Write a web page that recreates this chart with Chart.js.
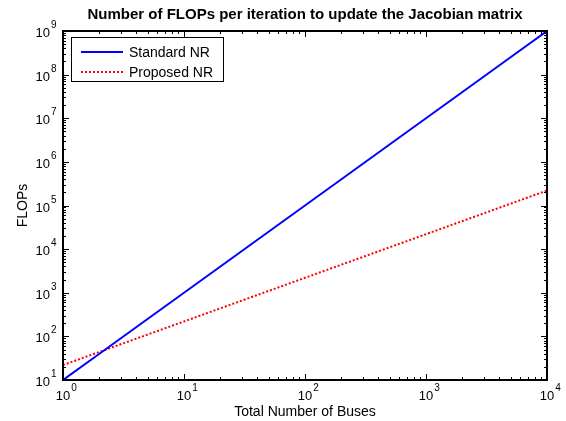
<!DOCTYPE html>
<html>
<head>
<meta charset="utf-8">
<script src="https://cdn.jsdelivr.net/npm/chart.js@4.4.1/dist/chart.umd.min.js"></script>
<style>
  html, body { margin: 0; padding: 0; background: #fff; }
  #wrap { width: 566px; height: 421px; }
</style>
</head>
<body>
<div id="wrap"><canvas id="flopsChart" width="566" height="421"></canvas></div>
<script>
// data
const buses = [1, 2, 5, 10, 20, 50, 100, 200, 500, 1000, 2000, 5000, 10000];
const standardNR = [10, 40, 250, 1000, 4000, 25000, 100000, 400000, 2500000, 10000000, 40000000, 250000000, 1000000000];
const proposedNR = [22, 44, 110, 220, 440, 1100, 2200, 4400, 11000, 22000, 44000, 110000, 220000];
const xExponents = [0, 1, 2, 3, 4];
const yExponents = [1, 2, 3, 4, 5, 6, 7, 8, 9];
const seriesNames = ['Standard NR', 'Proposed NR'];

const FONT = '"Liberation Sans", Arial, sans-serif';

function toPoints(xs, ys) {
    return xs.map(function(x, i) { return { x: x, y: ys[i] }; });
}

// MATLAB-like axes box, inward ticks, 10^n labels, legend and titles
const matlabAxes = {
    id: 'matlabAxes',
    afterDraw: function(chart) {
        const ctx = chart.ctx;
        const area = chart.chartArea;
        const xs = chart.scales.x;
        const ys = chart.scales.y;
        ctx.save();

        // ticks
        ctx.strokeStyle = '#000';
        ctx.lineWidth = 1;
        ctx.beginPath();
        for (let e = xExponents[0]; e <= xExponents[xExponents.length - 1]; e++) {
            for (let m = 1; m <= 9; m++) {
                if (e === xExponents[xExponents.length - 1] && m > 1) break;
                const px = Math.round(xs.getPixelForValue(m * Math.pow(10, e))) + 0.5;
                const len = m === 1 ? 6 : 3;
                ctx.moveTo(px, area.bottom); ctx.lineTo(px, area.bottom - len);
                ctx.moveTo(px, area.top); ctx.lineTo(px, area.top + len);
            }
        }
        for (let e = yExponents[0]; e <= yExponents[yExponents.length - 1]; e++) {
            for (let m = 1; m <= 9; m++) {
                if (e === yExponents[yExponents.length - 1] && m > 1) break;
                const py = Math.round(ys.getPixelForValue(m * Math.pow(10, e))) + 0.5;
                const len = m === 1 ? 6 : 3;
                ctx.moveTo(area.left, py); ctx.lineTo(area.left + len, py);
                ctx.moveTo(area.right, py); ctx.lineTo(area.right - len, py);
            }
        }
        ctx.stroke();

        // box
        ctx.lineWidth = 2;
        ctx.strokeRect(area.left, area.top, area.right - area.left, area.bottom - area.top);

        // tick labels
        ctx.fillStyle = '#000';
        ctx.textBaseline = 'alphabetic';
        xExponents.forEach(function(e) {
            const px = xs.getPixelForValue(Math.pow(10, e));
            ctx.font = '13px ' + FONT;
            ctx.textAlign = 'center';
            ctx.fillText('10', px, area.bottom + 20);
            const w = ctx.measureText('10').width;
            ctx.font = '10px ' + FONT;
            ctx.textAlign = 'left';
            ctx.fillText(String(e), px + w / 2 + 1, area.bottom + 11);
        });
        yExponents.forEach(function(e) {
            const py = ys.getPixelForValue(Math.pow(10, e));
            ctx.font = '13px ' + FONT;
            ctx.textAlign = 'right';
            ctx.fillText('10', area.left - 13, py + 6);
            ctx.font = '10px ' + FONT;
            ctx.textAlign = 'left';
            ctx.fillText(String(e), area.left - 12, py - 3);
        });

        // title and axis labels
        ctx.font = 'bold 15px ' + FONT;
        ctx.textAlign = 'center';
        ctx.fillText('Number of FLOPs per iteration to update the Jacobian matrix', (area.left + area.right) / 2, 19);
        ctx.font = '14px ' + FONT;
        ctx.fillText('Total Number of Buses', (area.left + area.right) / 2, 416);
        ctx.save();
        ctx.translate(27, (area.top + area.bottom) / 2);
        ctx.rotate(-Math.PI / 2);
        ctx.fillText('FLOPs', 0, 0);
        ctx.restore();

        // legend
        const lx = area.left + 8, ly = area.top + 6, lw = 152, lh = 44;
        ctx.fillStyle = '#fff';
        ctx.fillRect(lx, ly, lw, lh);
        ctx.lineWidth = 1;
        ctx.strokeStyle = '#000';
        ctx.strokeRect(lx + 0.5, ly + 0.5, lw, lh);
        chart.data.datasets.forEach(function(ds, i) {
            const yy = ly + 15 + i * 20;
            ctx.strokeStyle = ds.borderColor;
            ctx.lineWidth = 2;
            ctx.setLineDash(ds.borderDash || []);
            ctx.beginPath();
            ctx.moveTo(lx + 10, yy);
            ctx.lineTo(lx + 52, yy);
            ctx.stroke();
            ctx.setLineDash([]);
            ctx.fillStyle = '#000';
            ctx.font = '14px ' + FONT;
            ctx.textAlign = 'left';
            ctx.fillText(seriesNames[i], lx + 58, yy + 5);
        });

        ctx.restore();
    }
};

new Chart(document.getElementById('flopsChart').getContext('2d'), {
    type: 'line',
    data: {
        datasets: [{
            label: seriesNames[0],
            data: toPoints(buses, standardNR),
            borderColor: '#0000ff',
            borderWidth: 2,
            pointRadius: 0,
            tension: 0
        }, {
            label: seriesNames[1],
            data: toPoints(buses, proposedNR),
            borderColor: '#ff0000',
            borderWidth: 2,
            borderDash: [2, 2],
            pointRadius: 0,
            tension: 0
        }]
    },
    options: {
        responsive: false,
        animation: false,
        layout: { padding: { left: 63, right: 19, top: 31, bottom: 41 } },
        plugins: {
            legend: { display: false },
            title: { display: false },
            tooltip: { enabled: false }
        },
        scales: {
            x: {
                type: 'logarithmic',
                min: 1,
                max: 10000,
                ticks: { display: false },
                grid: { display: false, drawTicks: false },
                border: { display: false }
            },
            y: {
                type: 'logarithmic',
                min: 10,
                max: 1000000000,
                ticks: { display: false },
                grid: { display: false, drawTicks: false },
                border: { display: false }
            }
        }
    },
    plugins: [matlabAxes]
});
</script>
</body>
</html>
